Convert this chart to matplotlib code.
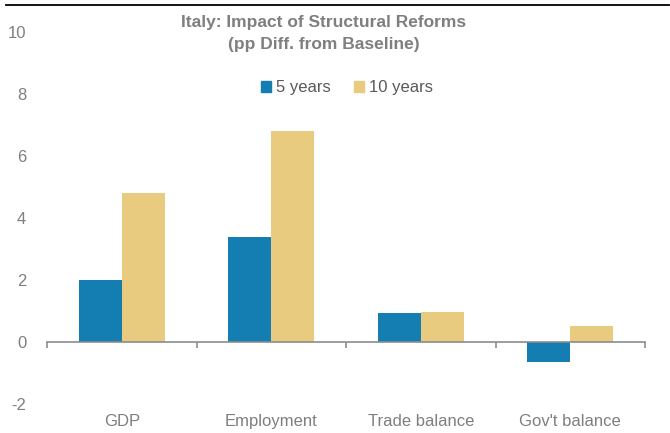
import matplotlib
matplotlib.use("Agg")
import matplotlib.pyplot as plt
import numpy as np
from matplotlib.lines import Line2D

plt.rcParams["font.family"] = ["Liberation Sans", "DejaVu Sans"]
plt.rcParams["axes.unicode_minus"] = False

categories = ["GDP", "Employment", "Trade balance", "Gov't balance"]
five_years = [2.0, 3.4, 0.92, -0.65]
ten_years = [4.8, 6.8, 0.96, 0.52]
series_names = ["5 years", "10 years"]

BLUE = "#147DB1"
GOLD = "#E8CB7E"
GREY = "#7F7F7F"
AXIS = "#8C8C8C"

fig = plt.figure(figsize=(6.7, 4.33), dpi=100)
ax = fig.add_axes([47 / 670, 29 / 433, 598 / 670, 372 / 433])

x = np.arange(len(categories))
w = 0.287
ax.bar(x - w / 2, five_years, w, color=BLUE, label=series_names[0])
ax.bar(x + w / 2, ten_years, w, color=GOLD, label=series_names[1])

ax.set_xlim(-0.5, len(categories) - 0.5)
ax.set_ylim(-2, 10)
ax.set_yticks(np.arange(-2, 11, 2))
ax.tick_params(axis="y", length=0, pad=15, labelsize=12, labelcolor=GREY)

for s in ["top", "right", "left"]:
    ax.spines[s].set_visible(False)
ax.spines["bottom"].set_position(("data", 0))
ax.spines["bottom"].set_color(AXIS)
ax.spines["bottom"].set_linewidth(1.2)

ax.set_xticks(x)
ax.set_xticklabels(categories)
ax.set_xticks(np.arange(-0.5, len(categories), 1.0), minor=True)
ax.tick_params(axis="x", which="major", length=0, pad=52, labelsize=12,
               labelcolor=GREY)
ax.tick_params(axis="x", which="minor", length=4, width=1.2, color=AXIS,
               direction="out")

fig.text(0.483, 0.923, "Italy: Impact of Structural Reforms\n(pp Diff. from Baseline)",
         ha="center", va="center", fontsize=12.5, fontweight="bold",
         color=GREY, linespacing=1.6)

handles = [plt.Rectangle((0, 0), 1, 1, color=BLUE),
           plt.Rectangle((0, 0), 1, 1, color=GOLD)]
fig.legend(handles, series_names, loc="center", bbox_to_anchor=(0.518, 0.797),
           ncol=2, frameon=False, fontsize=12, labelcolor="#595959",
           handlelength=0.6, handleheight=0.6, handletextpad=0.3,
           columnspacing=1.4)

# thin frame line along the top edge
fig.add_artist(Line2D([6 / 670, 669 / 670], [1 - 5 / 433, 1 - 5 / 433],
                      color="black", linewidth=1.3))

fig.savefig("out.png", dpi=100)
